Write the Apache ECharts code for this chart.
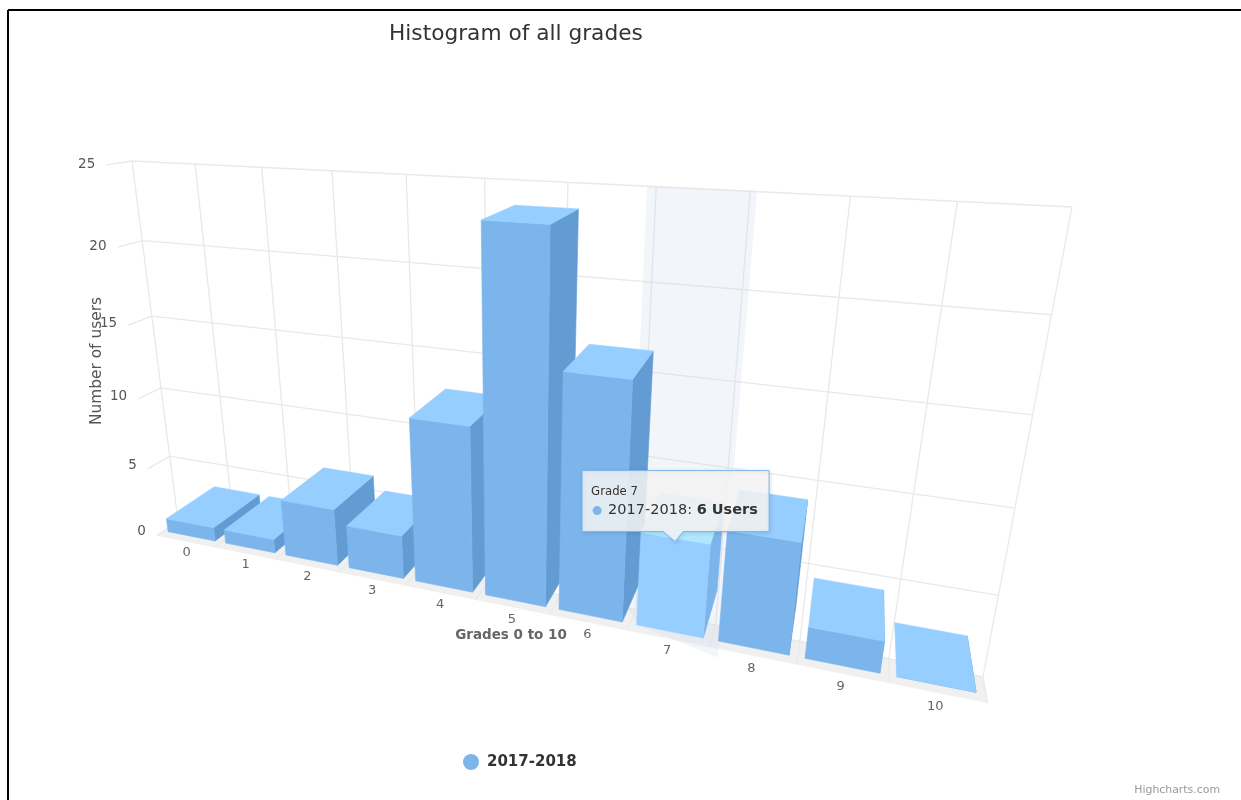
<!DOCTYPE html>
<html>
<head>
<meta charset="utf-8">
<title>Histogram of all grades</title>
<script src="https://cdn.jsdelivr.net/npm/echarts@6/dist/echarts.min.js"></script>
<style>
  html, body { margin: 0; padding: 0; background: #fff; }
  #chart { width: 1241px; height: 800px; }
</style>
</head>
<body>
<div id="chart"></div>
<script>
// Chart values
const grades = ['0', '1', '2', '3', '4', '5', '6', '7', '8', '9', '10'];
const users = [1, 1, 4, 3, 11, 23, 15, 6, 7, 2, 0];
const yTicks = [0, 5, 10, 15, 20, 25];
const seriesName = '2017-2018';
const hoverIndex = 7;

// Flat plotting rectangle the hidden axes scale into
const plot = { left: 120, top: 160, width: 880, height: 400 };

// Camera: back wall corners, vanishing point of the depth direction, depth strength
const wall = [[178, 521], [983, 677], [1072, 207], [132, 161]];
const vanish = [874, 47];
const depthScale = 0.072;
const barFront = -0.28, barBack = 0.7, floorFront = -0.41;
const barPadLeft = 0.08, barPadRight = 0.1;

const palette = {
  front: '#7cb5ec', top: '#95ceff', side: '#639cd3',
  hoverFront: '#95ceff', hoverTop: '#aee7ff', hoverSide: '#7cb5ec',
  grid: '#e9e9e9', floor: '#f0f0f0', band: 'rgba(204,214,235,0.25)'
};
const FONT = '"DejaVu Sans", sans-serif';

// Solve the unit-square-to-wall perspective
const [p0, p1, p2, p3] = wall;
const dx1 = p1[0] - p2[0], dx2 = p3[0] - p2[0], dx3 = p0[0] - p1[0] + p2[0] - p3[0];
const dy1 = p1[1] - p2[1], dy2 = p3[1] - p2[1], dy3 = p0[1] - p1[1] + p2[1] - p3[1];
const den = dx1 * dy2 - dx2 * dy1;
const g1 = (dx3 * dy2 - dx2 * dy3) / den;
const g2 = (dx1 * dy3 - dx3 * dy1) / den;

// Takes a point already scaled by the axes and a depth, returns its place on screen
function project(pt, w) {
  const U = (pt[0] - plot.left) / plot.width;
  const V = (plot.top + plot.height - pt[1]) / plot.height;
  const d = 1 + g1 * U + g2 * V + depthScale * w;
  const X = p0[0] + (p1[0] - p0[0] + g1 * p1[0]) * U + (p3[0] - p0[0] + g2 * p3[0]) * V + depthScale * w * vanish[0];
  const Y = p0[1] + (p1[1] - p0[1] + g1 * p1[1]) * U + (p3[1] - p0[1] + g2 * p3[1]) * V + depthScale * w * vanish[1];
  return [X / d, Y / d];
}
const at = (api, u, v, w) => project(api.coord([u, v]), w);
const face = (points, color) => ({
  type: 'polygon',
  shape: { points },
  style: { fill: color, stroke: color, lineWidth: 0.6 }
});
const seg = (a, b, color) => ({
  type: 'line',
  shape: { x1: a[0], y1: a[1], x2: b[0], y2: b[1] },
  style: { stroke: color, lineWidth: 1.3, fill: null }
});
const label = (pos, text, size, color, align) => ({
  type: 'text',
  style: {
    x: pos[0], y: pos[1], text, fill: color,
    font: `${size}px ${FONT}`, textAlign: align, textVerticalAlign: 'middle'
  }
});

// Floor strip, wall grid and the tick marks running forward from it
function renderFrame(params, api) {
  const children = [];
  const uMax = grades.length;
  const vMax = yTicks[yTicks.length - 1];
  children.push(face([
    at(api, 0, 0, floorFront), at(api, uMax, 0, floorFront),
    at(api, uMax, 0, 0), at(api, 0, 0, 0)
  ], palette.floor));
  for (let u = 0; u <= uMax; u++) {
    children.push(seg(at(api, u, 0, 0), at(api, u, vMax, 0), palette.grid));
    children.push(seg(at(api, u, 0, 0), at(api, u, 0, floorFront), palette.grid));
  }
  yTicks.forEach(v => {
    children.push(seg(at(api, 0, v, 0), at(api, uMax, v, 0), palette.grid));
    if (v > 0) children.push(seg(at(api, 0, v, 0), at(api, 0, v, floorFront), palette.grid));
  });
  return { type: 'group', children };
}

// Pale column marking the hovered grade
function renderBand(params, api) {
  const vMax = yTicks[yTicks.length - 1];
  return {
    type: 'polygon',
    shape: {
      points: [
        at(api, hoverIndex - 0.1, vMax, 0),
        at(api, hoverIndex + 1.07, vMax, 0),
        at(api, hoverIndex + 1.07, 0, -0.1),
        at(api, hoverIndex + 1.1, -0.6, -0.41),
        at(api, hoverIndex + 0.1, 0, -0.28),
        at(api, hoverIndex - 0.1, 0, 0)
      ]
    },
    style: { fill: palette.band }
  };
}

// One column: right side, front and top faces
function renderBar(params, api) {
  const i = api.value(0);
  const v = api.value(1);
  const u0 = i + barPadLeft, u1 = i + 1 - barPadRight;
  const hover = i === hoverIndex;
  const children = [];
  children.push(face([
    at(api, u1, 0, barFront), at(api, u1, 0, barBack),
    at(api, u1, v, barBack), at(api, u1, v, barFront)
  ], hover ? palette.hoverSide : palette.side));
  children.push(face([
    at(api, u0, 0, barFront), at(api, u1, 0, barFront),
    at(api, u1, v, barFront), at(api, u0, v, barFront)
  ], hover ? palette.hoverFront : palette.front));
  children.push(face([
    at(api, u0, v, barFront), at(api, u1, v, barFront),
    at(api, u1, v, barBack), at(api, u0, v, barBack)
  ], hover ? palette.hoverTop : palette.top));
  return { type: 'group', children };
}

// Tick labels on both axes
function renderLabels(params, api) {
  const children = [];
  grades.forEach((g, i) => {
    children.push(label(at(api, i + 0.5, -0.85, floorFront), g, 13, '#666666', 'center'));
  });
  yTicks.forEach(v => {
    const p = at(api, 0, v, floorFront);
    children.push(label([p[0] - 11, p[1] - 4 + v * 0.16], String(v), 13.5, '#555555', 'right'));
  });
  return { type: 'group', children };
}

// Callout sitting on the hovered column
function renderTip(params, api) {
  const tip = at(api, hoverIndex + 0.5, users[hoverIndex], barFront);
  const x = tip[0] - 1, y = tip[1] + 3;
  const box = [
    [x - 93, y - 71], [x + 94, y - 71], [x + 94, y - 10], [x + 8, y - 10],
    [x, y], [x - 12, y - 10], [x - 93, y - 10]
  ];
  return {
    type: 'group',
    children: [
      {
        type: 'polygon',
        shape: { points: box },
        style: {
          fill: 'rgba(247,247,247,0.85)', stroke: palette.front, lineWidth: 1,
          shadowBlur: 4, shadowColor: 'rgba(0,0,0,0.12)', shadowOffsetX: 1, shadowOffsetY: 1
        }
      },
      label([x - 84, y - 50], 'Grade ' + grades[hoverIndex], 11.7, '#333333', 'left'),
      { type: 'circle', shape: { cx: x - 78, cy: y - 31, r: 4.5 }, style: { fill: palette.front } },
      {
        type: 'text',
        style: {
          x: x - 67, y: y - 31,
          text: seriesName + ': {b|' + users[hoverIndex] + ' Users}',
          fill: '#333333', font: `14.5px ${FONT}`, textAlign: 'left', textVerticalAlign: 'middle',
          rich: { b: { font: `bold 14.5px ${FONT}`, fill: '#333333' } }
        }
      }
    ]
  };
}

const chart = echarts.init(document.getElementById('chart'));
chart.setOption({
  animation: false,
  backgroundColor: '#ffffff',
  title: {
    text: 'Histogram of all grades',
    left: 384, top: 18,
    textStyle: { fontFamily: FONT, fontSize: 21.7, fontWeight: 'normal', color: '#333333' }
  },
  legend: {
    data: [seriesName],
    left: 458, top: 749,
    itemWidth: 16, itemHeight: 16,
    icon: 'circle',
    selectedMode: false,
    textStyle: { fontFamily: FONT, fontSize: 15, fontWeight: 'bold', color: '#333333', padding: [0, 0, 0, 3] }
  },
  grid: plot,
  xAxis: { type: 'value', min: 0, max: grades.length, interval: 1, show: false },
  yAxis: { type: 'value', min: 0, max: yTicks[yTicks.length - 1], interval: 5, show: false },
  graphic: [
    { type: 'line', shape: { x1: 8, y1: 10, x2: 1241, y2: 10 }, style: { stroke: '#000', lineWidth: 2 } },
    { type: 'line', shape: { x1: 8, y1: 10, x2: 8, y2: 800 }, style: { stroke: '#000', lineWidth: 2 } },
    {
      type: 'text', x: 97, y: 361, rotation: Math.PI / 2,
      style: {
        text: 'Number of users', fill: '#555555', font: `15.4px ${FONT}`,
        textAlign: 'center', textVerticalAlign: 'middle'
      }
    },
    {
      type: 'text', x: 511, y: 635,
      style: {
        text: 'Grades 0 to 10', fill: '#666666', font: `bold 13.5px ${FONT}`,
        textAlign: 'center', textVerticalAlign: 'middle'
      }
    },
    {
      type: 'text', x: 1220, y: 790,
      style: {
        text: 'Highcharts.com', fill: '#999999', font: `10.9px ${FONT}`,
        textAlign: 'right', textVerticalAlign: 'middle'
      }
    }
  ],
  series: [
    { type: 'custom', name: 'frame', silent: true, z: 1, data: [[0, 0]], renderItem: renderFrame },
    { type: 'custom', name: 'band', silent: true, z: 2, data: [[0, 0]], renderItem: renderBand },
    {
      type: 'custom', name: seriesName, z: 3,
      itemStyle: { color: palette.front },
      data: users.map((v, i) => [i, v]),
      renderItem: renderBar
    },
    { type: 'custom', name: 'labels', silent: true, z: 4, data: [[0, 0]], renderItem: renderLabels },
    { type: 'custom', name: 'callout', silent: true, z: 5, data: [[0, 0]], renderItem: renderTip }
  ]
});
</script>
</body>
</html>
